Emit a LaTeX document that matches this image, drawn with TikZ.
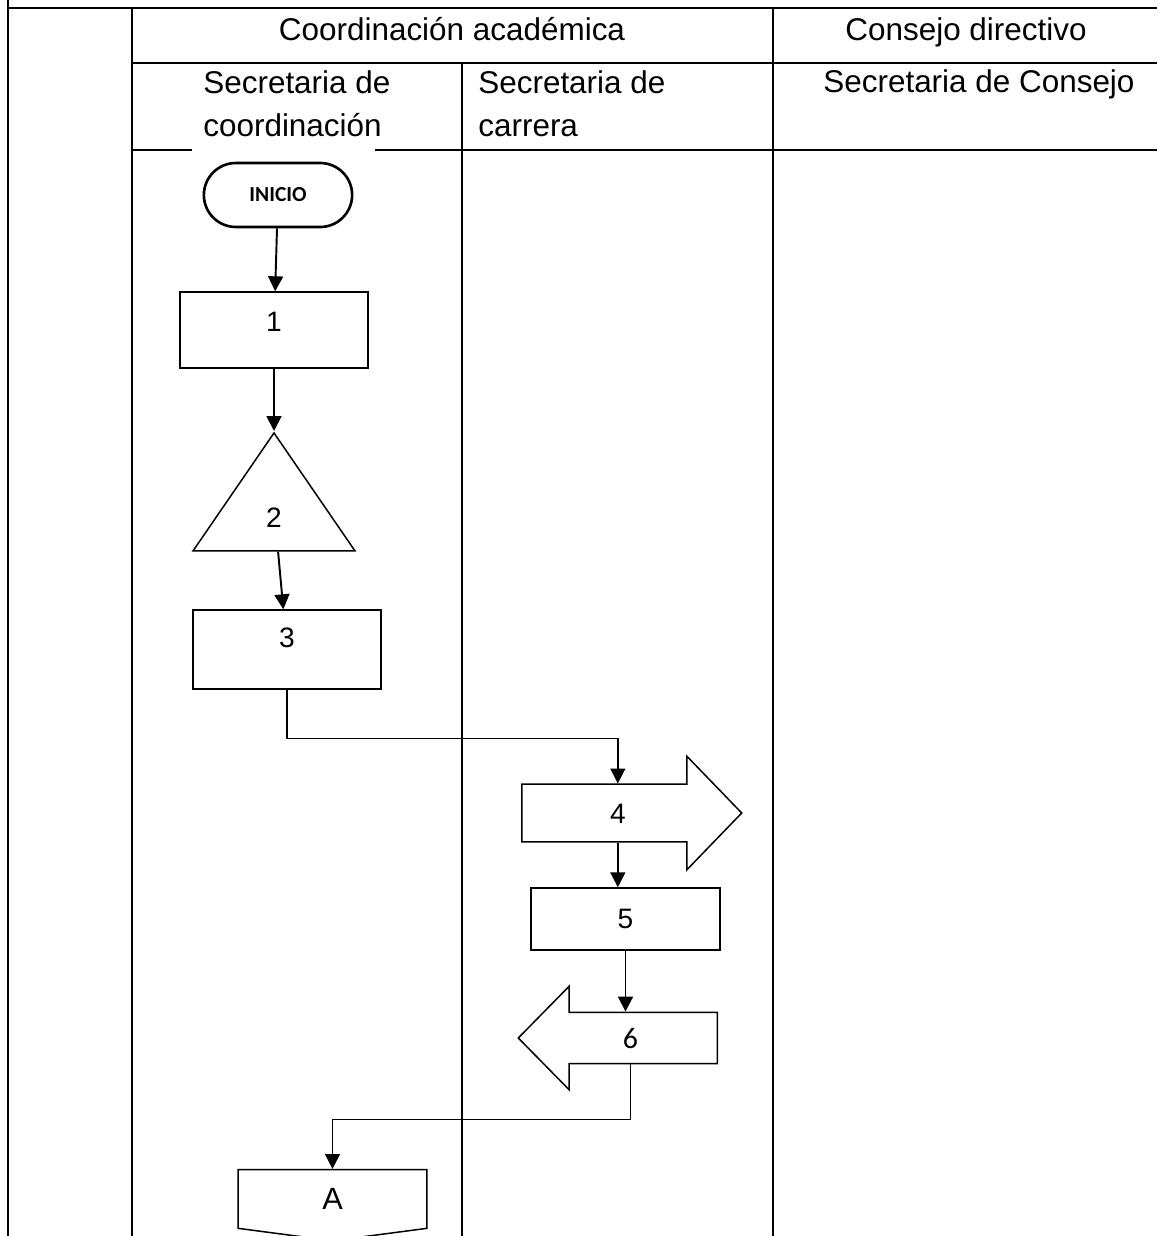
\documentclass[tikz,border=0pt]{standalone}
\usepackage{fontspec}
\setmainfont{Liberation Sans}
\newfontfamily\calibrifont{Carlito}
\tikzset{
    laneLine/.style={line width=1.15pt},
    headText/.style={font=\fontsize{17.9}{25}\selectfont, inner sep=0pt},
    terminal/.style={draw, rounded rectangle, line width=1.5pt, minimum width=3.2cm, minimum height=1.28cm, font=\calibrifont\bfseries\fontsize{12.2}{14}\selectfont},
    process/.style={draw, rectangle, line width=0.85pt, inner sep=0pt, font=\fontsize{16}{18}\selectfont},
    storage/.style={draw, isosceles triangle, isosceles triangle stretches, shape border rotate=90, line width=0.85pt, inner sep=0pt, font=\fontsize{16}{18}\selectfont},
    transport/.style={draw, single arrow, single arrow head indent=0pt, line width=0.85pt, inner xsep=0pt, text height=11.5pt, text depth=0pt, font=\fontsize{16}{18}\selectfont},
    offpage/.style={draw, signal, signal to=south, signal from=nowhere, line width=0.85pt, inner sep=0pt, font=\fontsize{17.5}{20}\selectfont},
}
\usetikzlibrary{arrows.meta, shapes.geometric, shapes.arrows, shapes.misc, shapes.symbols, calc}

\begin{document}
\begin{tikzpicture}[x=0.02cm, y=-0.02cm]
\tikzstyle{flowArrow}=[line width=1.1pt, -{Triangle[length=8.5pt, width=8.5pt]}]
\tikzstyle{elbowArrow}=[line width=0.8pt, -{Triangle[length=8.5pt, width=8.5pt]}]

\useasboundingbox (0,0) rectangle (1157,1236);
\draw[laneLine] (8,0) -- (8,1236);
\draw[laneLine] (8,8) -- (1157,8);
\draw[laneLine] (132,8) -- (132,1236);
\draw[laneLine] (773,8) -- (773,1236);
\draw[laneLine] (462,63) -- (462,1236);
\draw[laneLine] (132,63) -- (1157,63);
\draw[laneLine] (132,150) -- (192,150) (375,150) -- (1157,150);

\node[headText, anchor=base] (coord) at (452,41) {Coordinación académica};
\node[headText, anchor=base] (consejo) at (966,41) {Consejo directivo};
\node[headText, anchor=base west, align=left] (seccoord) at (203,137) {Secretaria de\\coordinación};
\node[headText, anchor=base west, align=left] (seccarr) at (478,137) {Secretaria de\\carrera};
\node[headText, anchor=base west] (secconsejo) at (823,93) {Secretaria de Consejo};

\node[terminal] (inicio) at (278,195) {INICIO};
\node[process, minimum width=3.76cm, minimum height=1.52cm, text depth=9pt] (p1) at (274,330) {1};
\node[storage, minimum width=3.24cm, minimum height=2.36cm, text height=23pt, text depth=0pt, anchor=apex] (p2) at (274,431) {2};
\draw[flowArrow] (inicio) -- (p1);
\draw[flowArrow] (p1) -- (p2.apex);
\node[process, minimum width=3.76cm, minimum height=1.58cm, text depth=13pt] (p3) at (287,649.5) {3};
\draw[flowArrow] (p2) -- (p3);

\node[transport, minimum height=4.4cm, minimum width=2.24cm, inner ysep=10.2pt, single arrow head extend=0.56cm, single arrow tip angle=92, anchor=tail] (p4) at (521,813) {4};
\draw[elbowArrow] (p3.south) -- ++(0,49) -| (p4.north);
\node[process, minimum width=3.78cm, minimum height=1.24cm] (p5) at (625.5,919) {5};
\draw[flowArrow] (p4.south) -- (p4.south |- p5.north);
\node[transport, shape border rotate=180, minimum height=3.98cm, minimum width=2.04cm, inner ysep=8.45pt, single arrow head extend=0.52cm, single arrow tip angle=91, anchor=tail, font=\calibrifont\fontsize{17}{20}\selectfont] (p6) at (718,1038) {6};
\draw[flowArrow] (p5.south) -- (p5.south |- p6.north);

\node[offpage, minimum width=3.78cm, minimum height=1.2cm, signal pointer angle=165] (pa) at (332.5,1199) {A};
\draw[elbowArrow] (p6.south) -- ++(0,55) -| (pa.north);

\end{tikzpicture}
\end{document}
